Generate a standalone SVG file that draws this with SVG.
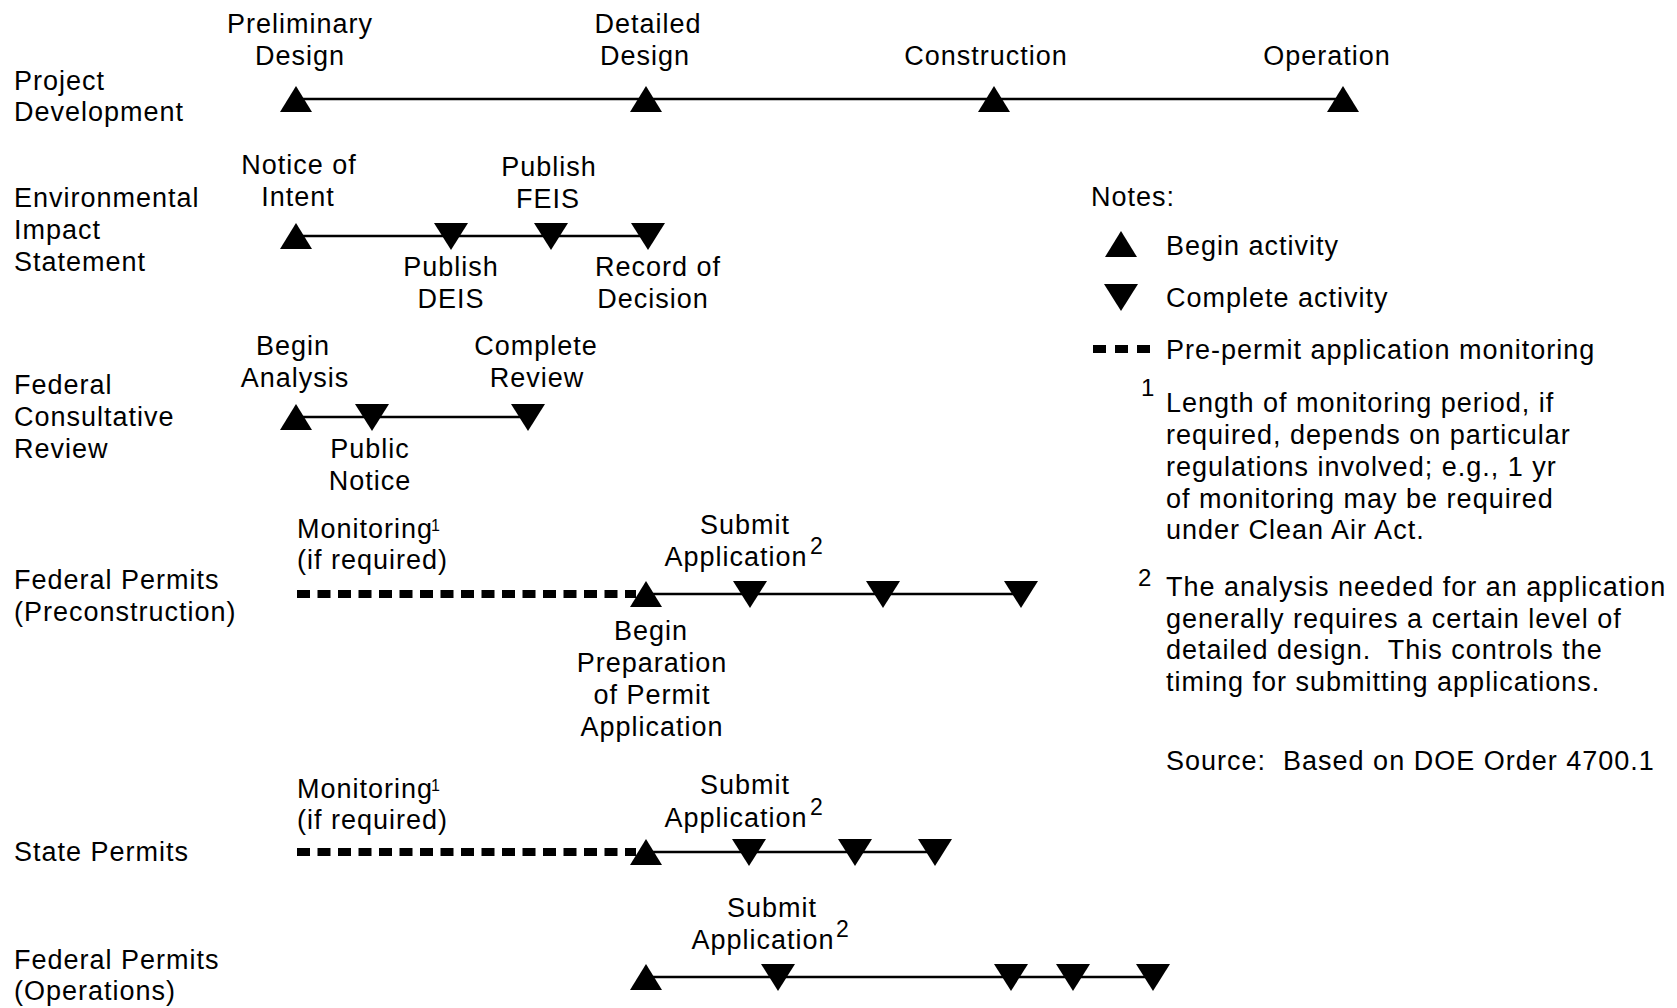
<svg xmlns="http://www.w3.org/2000/svg" xmlns:xlink="http://www.w3.org/1999/xlink" width="1677" height="1008" viewBox="0 0 1677 1008">
<style>
.t{font-family:"Liberation Sans",Arial,Helvetica,sans-serif;font-size:27px;letter-spacing:1px;fill:#000}
.m{text-anchor:middle}
.s1{font-size:16px;letter-spacing:0}
.s2{font-size:23px;letter-spacing:0}
.s3{font-size:24px;letter-spacing:0}
.ln{stroke:#000;stroke-width:2.5;fill:none}
.dash{stroke:#000;stroke-width:8;stroke-dasharray:13 7.5;fill:none}
.mk{fill:#000}
</style>
<defs>
<path id="up" d="M-16,13 L0,-13 L16,13 Z"/>
<path id="dn" d="M-17,-13 L17,-13 L0,14 Z"/>
</defs>
<rect width="1677" height="1008" fill="#fff"/>

<g id="connectors">
<line class="ln" x1="296" y1="99" x2="1343" y2="99"/>
<line class="ln" x1="296" y1="236" x2="648" y2="236"/>
<line class="ln" x1="296" y1="417" x2="528" y2="417"/>
<line class="dash" x1="297" y1="594" x2="636" y2="594"/>
<line class="ln" x1="646" y1="594" x2="1021" y2="594"/>
<line class="dash" x1="297" y1="852" x2="636" y2="852"/>
<line class="ln" x1="646" y1="852" x2="935" y2="852"/>
<line class="ln" x1="646" y1="977" x2="1153" y2="977"/>
</g>

<g id="row-labels" class="t">
<text x="14" y="90">Project</text>
<text x="14" y="121">Development</text>
<text x="14" y="207">Environmental</text>
<text x="14" y="239">Impact</text>
<text x="14" y="271">Statement</text>
<text x="14" y="394">Federal</text>
<text x="14" y="426">Consultative</text>
<text x="14" y="458">Review</text>
<text x="14" y="589">Federal Permits</text>
<text x="14" y="621">(Preconstruction)</text>
<text x="14" y="861">State Permits</text>
<text x="14" y="969">Federal Permits</text>
<text x="14" y="1000">(Operations)</text>
</g>

<g id="pd-preliminary">
<use xlink:href="#up" x="296" y="99" class="mk"/>
<text class="t m" x="300" y="33">Preliminary</text>
<text class="t m" x="300" y="65">Design</text>
</g>
<g id="pd-detailed">
<use xlink:href="#up" x="646" y="99" class="mk"/>
<text class="t m" x="648" y="33">Detailed</text>
<text class="t m" x="645" y="65">Design</text>
</g>
<g id="pd-construction">
<use xlink:href="#up" x="994" y="99" class="mk"/>
<text class="t m" x="986" y="65">Construction</text>
</g>
<g id="pd-operation">
<use xlink:href="#up" x="1343" y="99" class="mk"/>
<text class="t m" x="1327" y="65">Operation</text>
</g>

<g id="eis-noi">
<use xlink:href="#up" x="296" y="236" class="mk"/>
<text class="t m" x="299" y="174">Notice of</text>
<text class="t m" x="298" y="206">Intent</text>
</g>
<g id="eis-deis">
<use xlink:href="#dn" x="451" y="236" class="mk"/>
<text class="t m" x="451" y="276">Publish</text>
<text class="t m" x="451" y="308">DEIS</text>
</g>
<g id="eis-feis">
<use xlink:href="#dn" x="551" y="236" class="mk"/>
<text class="t m" x="549" y="176">Publish</text>
<text class="t m" x="548" y="208">FEIS</text>
</g>
<g id="eis-rod">
<use xlink:href="#dn" x="648" y="236" class="mk"/>
<text class="t m" x="658" y="276">Record of</text>
<text class="t m" x="653" y="308">Decision</text>
</g>

<g id="fcr-begin">
<use xlink:href="#up" x="296" y="417" class="mk"/>
<text class="t m" x="293" y="355">Begin</text>
<text class="t m" x="295" y="387">Analysis</text>
</g>
<g id="fcr-notice">
<use xlink:href="#dn" x="372" y="417" class="mk"/>
<text class="t m" x="370" y="458">Public</text>
<text class="t m" x="370" y="490">Notice</text>
</g>
<g id="fcr-complete">
<use xlink:href="#dn" x="528" y="417" class="mk"/>
<text class="t m" x="536" y="355">Complete</text>
<text class="t m" x="537" y="387">Review</text>
</g>

<g id="fpp-monitoring">
<text class="t" x="297" y="538">Monitoring</text>
<text class="t s1" x="431" y="531">1</text>
<text class="t" x="297" y="569">(if required)</text>
</g>
<g id="fpp-begin">
<use xlink:href="#up" x="646" y="594" class="mk"/>
<text class="t m" x="651" y="640">Begin</text>
<text class="t m" x="652" y="672">Preparation</text>
<text class="t m" x="652" y="704">of Permit</text>
<text class="t m" x="652" y="736">Application</text>
</g>
<g id="fpp-submit">
<use xlink:href="#dn" x="750" y="594" class="mk"/>
<text class="t m" x="745" y="534">Submit</text>
<text class="t m" x="736" y="566">Application</text>
<text class="t s2" x="810" y="554">2</text>
</g>
<g id="fpp-c2"><use xlink:href="#dn" x="883" y="594" class="mk"/></g>
<g id="fpp-c3"><use xlink:href="#dn" x="1021" y="594" class="mk"/></g>

<g id="sp-monitoring">
<text class="t" x="297" y="798">Monitoring</text>
<text class="t s1" x="431" y="791">1</text>
<text class="t" x="297" y="829">(if required)</text>
</g>
<g id="sp-begin"><use xlink:href="#up" x="646" y="852" class="mk"/></g>
<g id="sp-submit">
<use xlink:href="#dn" x="749" y="852" class="mk"/>
<text class="t m" x="745" y="794">Submit</text>
<text class="t m" x="736" y="827">Application</text>
<text class="t s2" x="810" y="815">2</text>
</g>
<g id="sp-c2"><use xlink:href="#dn" x="855" y="852" class="mk"/></g>
<g id="sp-c3"><use xlink:href="#dn" x="935" y="852" class="mk"/></g>

<g id="fpo-begin"><use xlink:href="#up" x="646" y="977" class="mk"/></g>
<g id="fpo-submit">
<use xlink:href="#dn" x="778" y="977" class="mk"/>
<text class="t m" x="772" y="917">Submit</text>
<text class="t m" x="763" y="949">Application</text>
<text class="t s2" x="836" y="937">2</text>
</g>
<g id="fpo-c2"><use xlink:href="#dn" x="1011" y="977" class="mk"/></g>
<g id="fpo-c3"><use xlink:href="#dn" x="1073" y="977" class="mk"/></g>
<g id="fpo-c4"><use xlink:href="#dn" x="1153" y="977" class="mk"/></g>

<g id="legend">
<text class="t" x="1091" y="206">Notes:</text>
<use xlink:href="#up" x="1121" y="244" class="mk"/>
<text class="t" x="1166" y="255">Begin activity</text>
<use xlink:href="#dn" x="1121" y="297" class="mk"/>
<text class="t" x="1166" y="307">Complete activity</text>
<line class="dash" x1="1093" y1="349" x2="1150" y2="349" style="stroke-dasharray:13 9"/>
<text class="t" x="1166" y="359">Pre-permit application monitoring</text>
<text class="t s3" x="1141" y="396">1</text>
<text class="t" x="1166" y="412">Length of monitoring period, if</text>
<text class="t" x="1166" y="444">required, depends on particular</text>
<text class="t" x="1166" y="476">regulations involved; e.g., 1 yr</text>
<text class="t" x="1166" y="508">of monitoring may be required</text>
<text class="t" x="1166" y="539">under Clean Air Act.</text>
<text class="t s3" x="1138" y="586">2</text>
<text class="t" x="1166" y="596">The analysis needed for an application</text>
<text class="t" x="1166" y="628">generally requires a certain level of</text>
<text class="t" x="1166" y="659" xml:space="preserve">detailed design.  This controls the</text>
<text class="t" x="1166" y="691">timing for submitting applications.</text>
<text class="t" x="1166" y="770" xml:space="preserve">Source:  Based on DOE Order 4700.1</text>
</g>
</svg>
